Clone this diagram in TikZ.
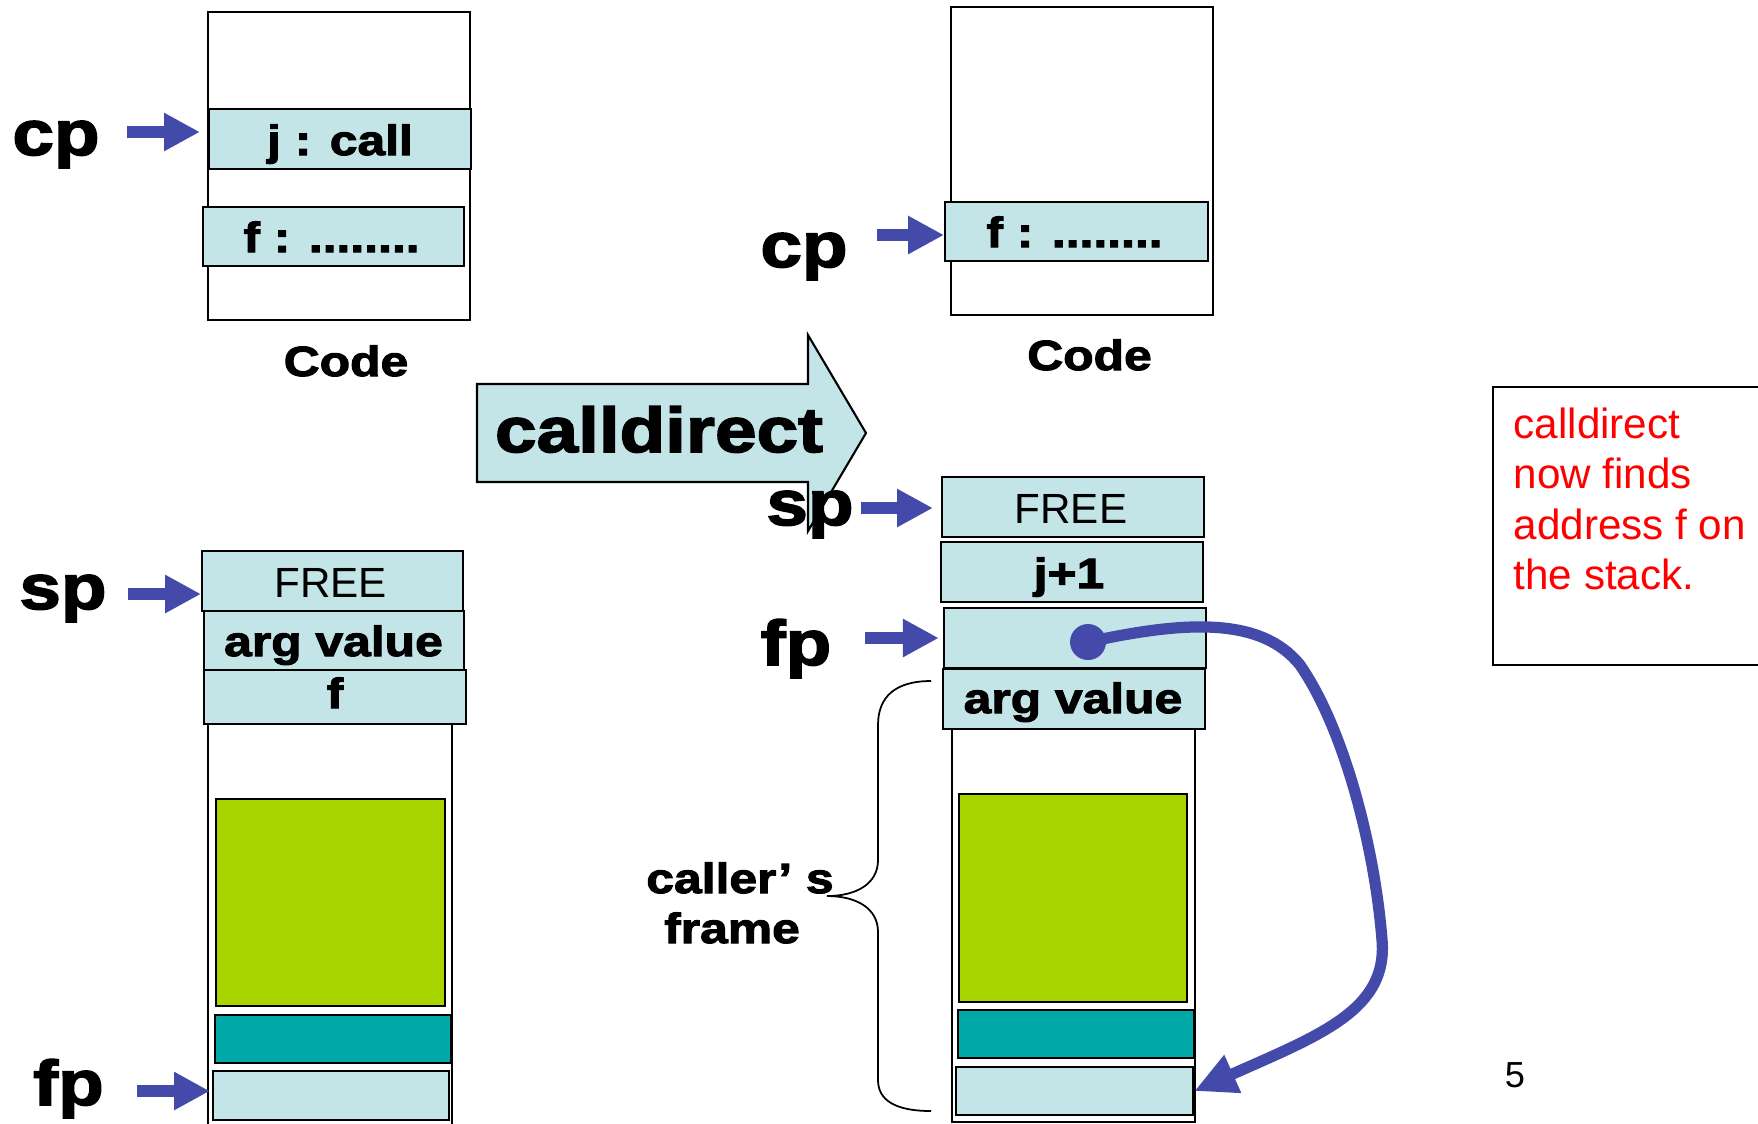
\documentclass[tikz,border=0pt]{standalone}
\usepackage{fontspec}
\setmainfont{Liberation Sans}
\newfontfamily\heavy{Liberation Sans Bold}[FakeStretch=1.18,FakeBold=2.5]
\usetikzlibrary{arrows.meta}
\definecolor{cellfill}{RGB}{196,229,232}
\definecolor{framegreen}{RGB}{168,212,0}
\definecolor{framteal}{RGB}{0,168,168}
\definecolor{ptrblue}{RGB}{68,74,170}
\definecolor{notered}{RGB}{255,0,0}
\tikzset{
  plainbox/.style={draw=black, line width=0.6pt, fill=white, inner sep=0pt, anchor=north west},
  cell/.style={plainbox, fill=cellfill},
  greencell/.style={plainbox, fill=framegreen},
  tealcell/.style={plainbox, fill=framteal},
  bigtxt/.style={font=\heavy\fontsize{18}{20}\selectfont, inner sep=0pt, anchor=base},
  celltxt/.style={font=\heavy\fontsize{12}{14}\selectfont, inner sep=0pt, anchor=base},
  thintxt/.style={font=\fontsize{12}{14}\selectfont, inner sep=0pt, anchor=base},
  ptr/.style={draw=ptrblue, line width=3.4pt, -{Triangle[length=10.2pt,width=10.2pt]}},
  linkarrow/.style={draw=ptrblue, line width=3.2pt, -{Triangle[length=12pt,width=11pt]}}
}
\begin{document}
\begin{tikzpicture}[x=0.01cm,y=-0.01cm]
\useasboundingbox[fill=white] (0,0) rectangle (1758,1123);

% ---------- code area before the call ----------
\node[plainbox, minimum width=2.62cm, minimum height=3.08cm] (codeL) at (207,11) {};
\node[cell, minimum width=2.62cm, minimum height=0.60cm] (jcall) at (208,108) {};
\node[cell, minimum width=2.61cm, minimum height=0.59cm] (fL) at (202,206) {};
\node[celltxt] (jcallT) at (340,155) {j : call};
\node[celltxt] (fLT) at (331.5,252) {f : ........};
\node[celltxt] (codeLT) at (346,376) {Code};

\node[bigtxt] (cpL) at (56,155) {cp};
\coordinate (cpLs) at (127,132);
\draw[ptr, shorten >=2.3pt] (cpLs) -- (cpLs -| jcall.west);

% ---------- code area after the call ----------
\node[plainbox, minimum width=2.62cm, minimum height=3.08cm] (codeR) at (950,6) {};
\node[cell, minimum width=2.63cm, minimum height=0.59cm] (fR) at (944,201) {};
\node[celltxt] (fRT) at (1074.5,247) {f : ........};
\node[celltxt] (codeRT) at (1089.5,370) {Code};

\node[bigtxt] (cpR) at (804,267) {cp};
\coordinate (cpRs) at (877,235);
\draw[ptr] (cpRs) -- (cpRs -| fR.west);

% ---------- transition arrow ----------
\draw[line width=0.6pt, fill=cellfill]
  (477,384) -- (808,384) -- (808,335) -- (866,433) -- (808,531) -- (808,482) -- (477,482) -- cycle;
\node[bigtxt] (calldirect) at (659,452) {calldirect};

% ---------- stack before the call ----------
\node[plainbox, minimum width=2.44cm, minimum height=4.30cm] (stackL) at (207,723) {};
\node[cell, minimum width=2.61cm, minimum height=0.60cm] (freeL) at (201,550) {};
\node[cell, minimum width=2.60cm, minimum height=0.59cm] (argL) at (203,610) {};
\node[cell, minimum width=2.62cm, minimum height=0.54cm] (fslot) at (203,669) {};
\node[greencell, minimum width=2.29cm, minimum height=2.07cm] (greenL) at (215,798) {};
\node[tealcell, minimum width=2.36cm, minimum height=0.48cm] (tealL) at (214,1014) {};
\node[cell, minimum width=2.36cm, minimum height=0.49cm] (lightL) at (212,1070) {};
\node[thintxt] (freeLT) at (330.5,597) {FREE};
\node[celltxt] (argLT) at (333.5,656) {arg value};
\node[celltxt] (fslotT) at (335,708) {f};

\node[bigtxt] (spL) at (63,609) {sp};
\coordinate (spLs) at (128,594);
\draw[ptr] (spLs) -- (spLs -| freeL.west);
\node[bigtxt] (fpL) at (68.5,1105) {fp};
\coordinate (fpLs) at (137,1091);
\draw[ptr, shorten >=0.6pt] (fpLs) -- (fpLs -| lightL.west);

% ---------- stack after the call ----------
\node[plainbox, minimum width=2.43cm, minimum height=3.93cm] (stackR) at (951,728) {};
\node[cell, minimum width=2.62cm, minimum height=0.60cm] (freeR) at (941,476) {};
\node[cell, minimum width=2.62cm, minimum height=0.60cm] (jR) at (940,541) {};
\node[cell, minimum width=2.62cm, minimum height=0.60cm] (fpslot) at (943,607) {};
\node[cell, minimum width=2.62cm, minimum height=0.60cm] (argR) at (942,668) {};
\node[greencell, minimum width=2.28cm, minimum height=2.08cm] (greenR) at (958,793) {};
\node[tealcell, minimum width=2.36cm, minimum height=0.48cm] (tealR) at (957,1009) {};
\node[cell, minimum width=2.37cm, minimum height=0.48cm] (lightR) at (955,1066) {};
\node[thintxt] (freeRT) at (1071,523) {FREE};
\node[celltxt] (jRT) at (1069,588) {j+1};
\node[celltxt] (argRT) at (1073,713) {arg value};

\node[bigtxt] (spR) at (810,525) {sp};
\coordinate (spRs) at (861,508);
\draw[ptr, shorten >=2.3pt] (spRs) -- (spRs -| freeR.west);
\node[bigtxt] (fpR) at (796,665) {fp};
\coordinate (fpRs) at (865,638);
\draw[ptr, shorten >=1.2pt] (fpRs) -- (fpRs -| fpslot.west);

% saved frame pointer links back to the caller's frame
\node[circle, fill=ptrblue, inner sep=0pt, minimum size=0.36cm] (dot) at (1088,642) {};
\draw[linkarrow] (dot.center)
  .. controls (1180,622) and (1260,615) .. (1300,665)
  .. controls (1345,730) and (1375,850) .. (1382,940)
  .. controls (1388,1010) and (1320,1035) .. (lightR.east);

% caller's frame brace
\draw[line width=0.5pt]
  (931,681) .. controls (895,681) and (878,697) .. (878,725) -- (878,860)
  .. controls (878,884) and (856,896) .. (827,896)
  .. controls (856,896) and (878,908) .. (878,932) -- (878,1080)
  .. controls (878,1100) and (895,1111) .. (931,1111);
\node[celltxt] (callers) at (740,893) {caller’ s};
\node[celltxt] (frameT) at (732,943) {frame};

% ---------- note ----------
\node[draw=black, line width=0.6pt, inner sep=0pt, anchor=north west,
      minimum width=2.80cm, minimum height=2.78cm] (notebox) at (1492,386) {};
\node[anchor=base west, inner sep=0pt, text=notered] (note) at (1513,438)
  {\parbox[t]{3cm}{\fontsize{12}{14.4}\selectfont calldirect\\now finds\\address f on\\the stack.}};

\node[font=\fontsize{10.3}{12}\selectfont, inner sep=0pt, anchor=base] (pagenum) at (1515,1087) {5};
\end{tikzpicture}
\end{document}
